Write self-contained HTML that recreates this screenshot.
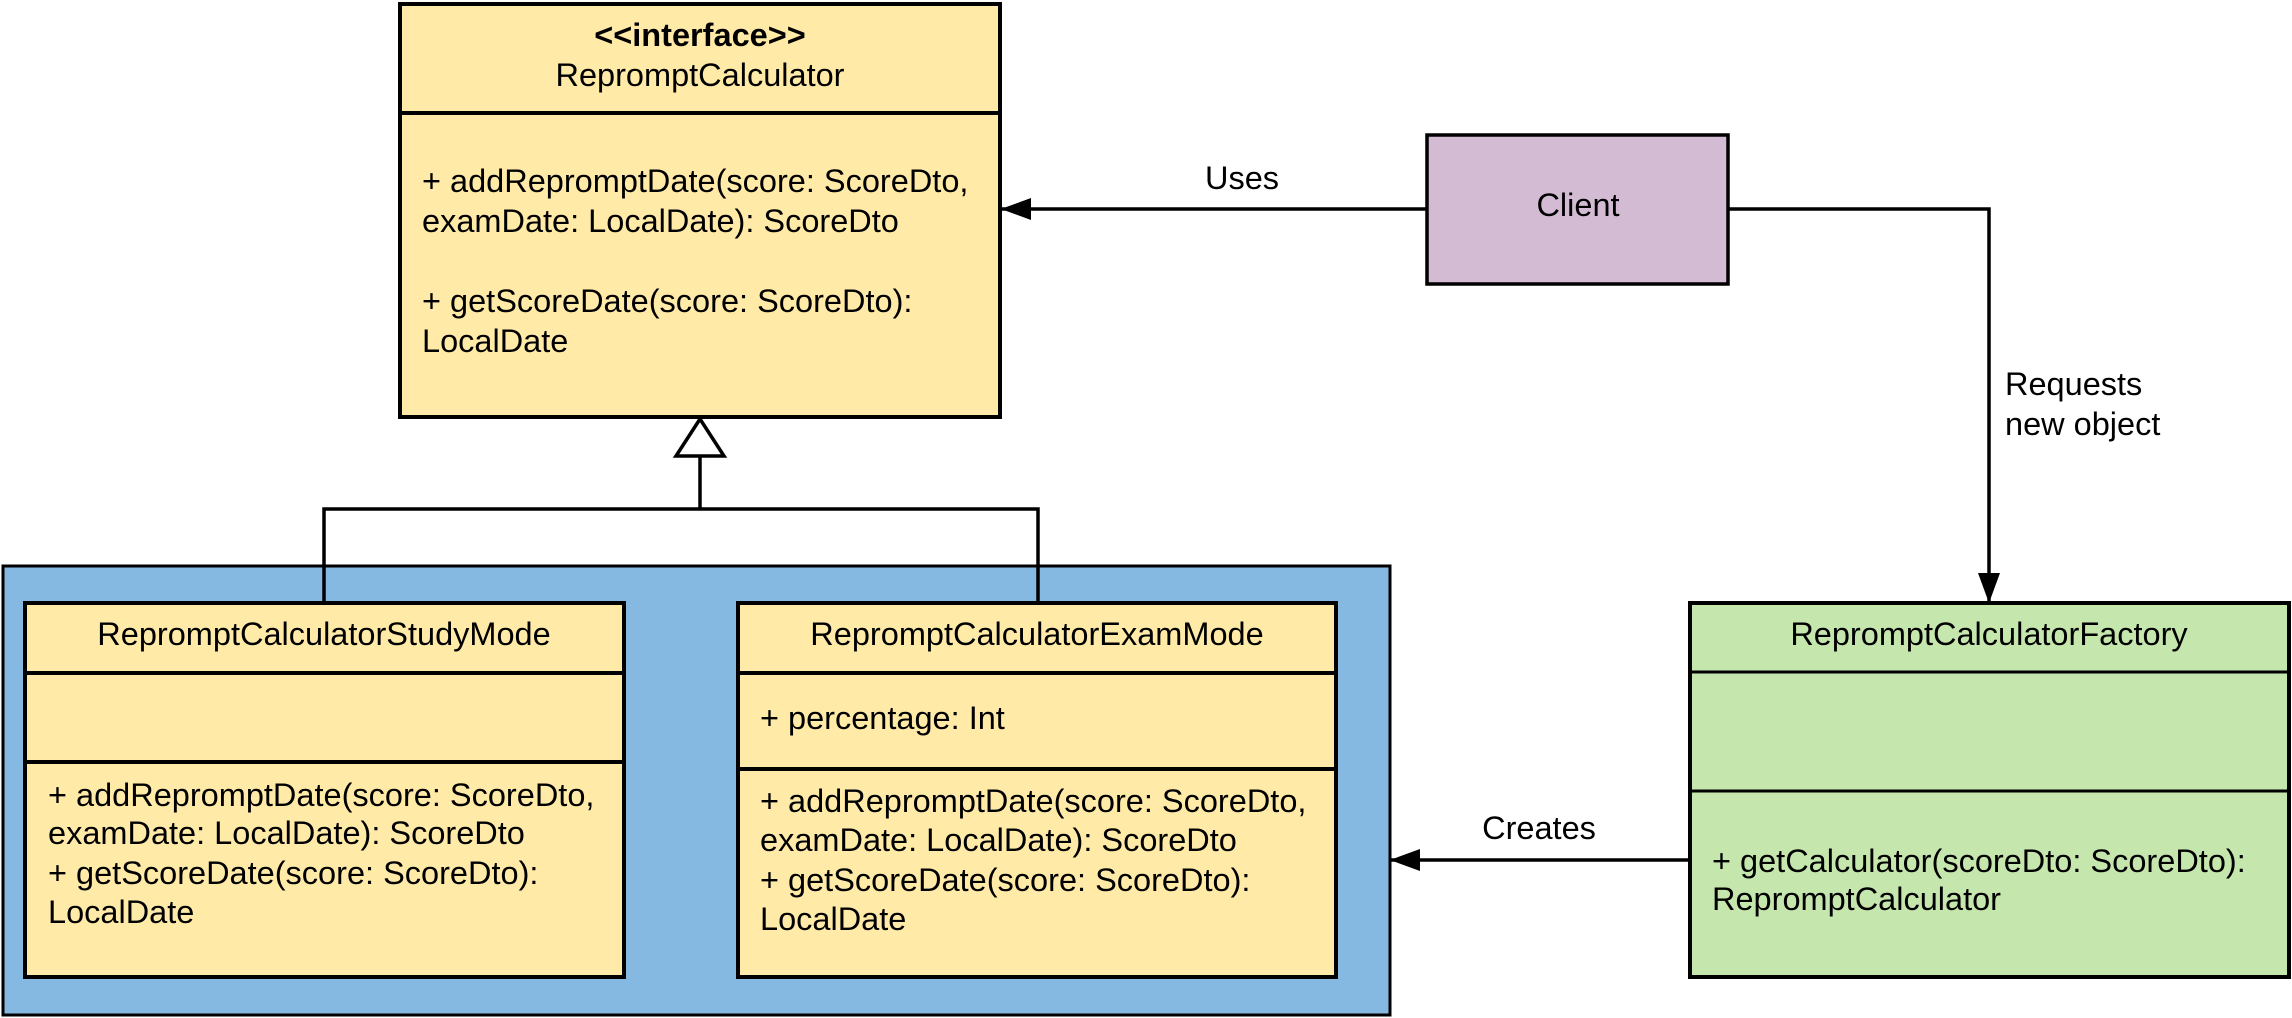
<!DOCTYPE html>
<html><head><meta charset="utf-8"><style>
html,body{margin:0;padding:0;background:#fff;}
svg{display:block;}
text{font-family:"Liberation Sans",Arial,sans-serif;font-size:32.5px;fill:#000;}
</style></head><body>
<svg width="2292" height="1018" viewBox="0 0 2292 1018" xmlns="http://www.w3.org/2000/svg">
<defs>
<marker id="ah" markerWidth="30" markerHeight="22" refX="29" refY="11" orient="auto" markerUnits="userSpaceOnUse">
<path d="M0,0 L30,11 L0,22 Z" fill="#000"/></marker>
</defs>
<rect x="3" y="566" width="1387" height="449" fill="#85b9e2" stroke="#000" stroke-width="3"/>
<rect x="400" y="4" width="600" height="413" fill="#ffeaa7" stroke="#000" stroke-width="4"/>
<line x1="400" y1="113" x2="1000" y2="113" stroke="#000" stroke-width="4"/>
<text x="700" y="46" text-anchor="middle" font-weight="bold">&lt;&lt;interface&gt;&gt;</text>
<text x="700" y="86" text-anchor="middle">RepromptCalculator</text>
<text x="422" y="192">+ addRepromptDate(score: ScoreDto,</text>
<text x="422" y="232">examDate: LocalDate): ScoreDto</text>
<text x="422" y="312">+ getScoreDate(score: ScoreDto):</text>
<text x="422" y="352">LocalDate</text>
<polyline points="324,602 324,509 1038,509 1038,602" fill="none" stroke="#000" stroke-width="3.5"/>
<line x1="700" y1="509" x2="700" y2="456" stroke="#000" stroke-width="3.5"/>
<polygon points="700,419 676,456 724,456" fill="#fff" stroke="#000" stroke-width="3.5"/>
<rect x="25" y="603" width="599" height="374" fill="#ffeaa7" stroke="#000" stroke-width="4"/>
<line x1="25" y1="673" x2="624" y2="673" stroke="#000" stroke-width="4"/>
<line x1="25" y1="762" x2="624" y2="762" stroke="#000" stroke-width="4"/>
<text x="324" y="645" text-anchor="middle">RepromptCalculatorStudyMode</text>
<text x="48" y="806">+ addRepromptDate(score: ScoreDto,</text>
<text x="48" y="844">examDate: LocalDate): ScoreDto</text>
<text x="48" y="884">+ getScoreDate(score: ScoreDto):</text>
<text x="48" y="923">LocalDate</text>
<rect x="738" y="603" width="598" height="374" fill="#ffeaa7" stroke="#000" stroke-width="4"/>
<line x1="738" y1="673" x2="1336" y2="673" stroke="#000" stroke-width="4"/>
<line x1="738" y1="769" x2="1336" y2="769" stroke="#000" stroke-width="4"/>
<text x="1037" y="645" text-anchor="middle">RepromptCalculatorExamMode</text>
<text x="760" y="729">+ percentage: Int</text>
<text x="760" y="812">+ addRepromptDate(score: ScoreDto,</text>
<text x="760" y="851">examDate: LocalDate): ScoreDto</text>
<text x="760" y="891">+ getScoreDate(score: ScoreDto):</text>
<text x="760" y="930">LocalDate</text>
<rect x="1427" y="135" width="301" height="149" fill="#d3bcd3" stroke="#000" stroke-width="3.5"/>
<text x="1578" y="216" text-anchor="middle">Client</text>
<line x1="1427" y1="209" x2="1002" y2="209" stroke="#000" stroke-width="3.5" marker-end="url(#ah)"/>
<text x="1242" y="189" text-anchor="middle">Uses</text>
<polyline points="1728,209 1989,209 1989,602" fill="none" stroke="#000" stroke-width="3.5" marker-end="url(#ah)"/>
<text x="2005" y="395">Requests</text>
<text x="2005" y="435">new object</text>
<rect x="1690" y="603" width="599" height="374" fill="#c5e6ad" stroke="#000" stroke-width="4"/>
<line x1="1690" y1="672" x2="2289" y2="672" stroke="#000" stroke-width="3"/>
<line x1="1690" y1="791" x2="2289" y2="791" stroke="#000" stroke-width="3"/>
<text x="1989" y="645" text-anchor="middle">RepromptCalculatorFactory</text>
<text x="1712" y="872">+ getCalculator(scoreDto: ScoreDto):</text>
<text x="1712" y="910">RepromptCalculator</text>
<line x1="1690" y1="860" x2="1391" y2="860" stroke="#000" stroke-width="3.5" marker-end="url(#ah)"/>
<text x="1539" y="839" text-anchor="middle">Creates</text>
</svg>
</body></html>
